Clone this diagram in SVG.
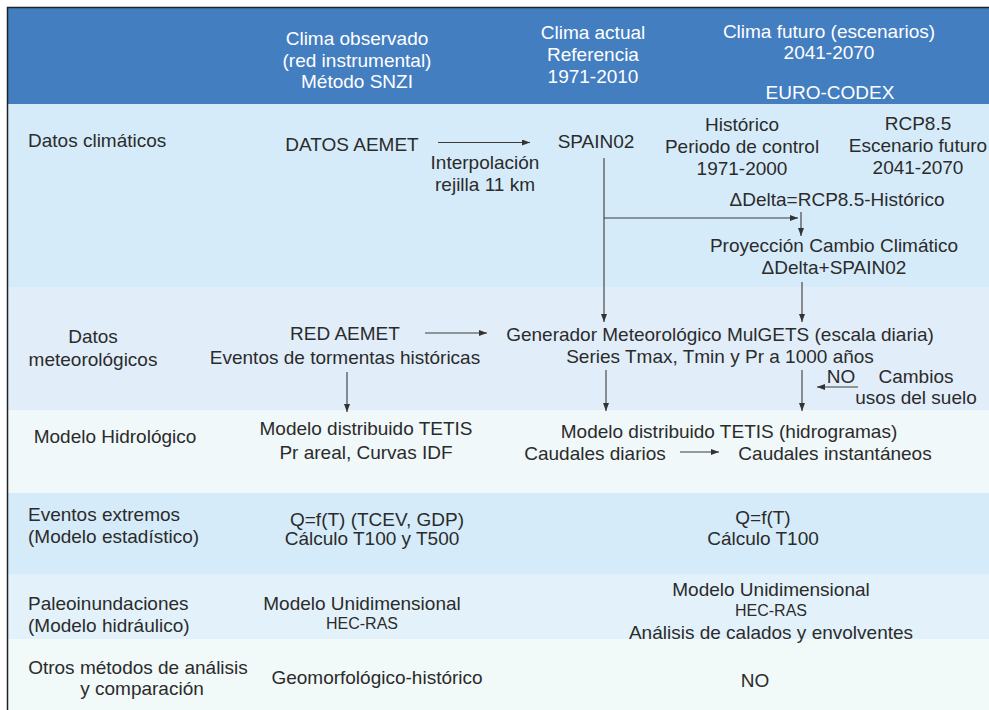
<svg xmlns="http://www.w3.org/2000/svg" width="989" height="710" viewBox="0 0 989 710">
<defs>
<marker id="ah" viewBox="0 0 8 6" refX="8" refY="3" markerWidth="8" markerHeight="6" markerUnits="userSpaceOnUse" orient="auto">
<path d="M0,0 L8,3 L0,6 z" fill="#333"/>
</marker>
</defs>
<style>
text{font-family:"Liberation Sans",Arial,sans-serif;font-size:19px;fill:#2b2b2b}
.h{fill:#ffffff;text-anchor:middle}
.c{text-anchor:middle}
.s{font-size:16px}
.ln{stroke:#3a3a3a;stroke-width:1.1;fill:none}
.ar{marker-end:url(#ah)}
</style>
<rect x="0" y="0" width="989" height="710" fill="#ffffff"/>
<g id="bands">
<rect x="8" y="8" width="981" height="96" fill="#437EC1"/>
<rect x="8" y="104" width="981" height="183" fill="#D6EBF9"/>
<rect x="8" y="287" width="981" height="123" fill="#E1EEFA"/>
<rect x="8" y="410" width="981" height="83" fill="#F0F8F9"/>
<rect x="8" y="493" width="981" height="81" fill="#D6EBF9"/>
<rect x="8" y="574" width="981" height="65" fill="#E3F2FA"/>
<rect x="8" y="639" width="981" height="71" fill="#F1F9F9"/>
<path d="M7.5,710 V7.5 H989" stroke="#222" stroke-width="1.5" fill="none"/>
</g>
<g id="header">
<text class="h" x="357" y="45">Clima observado</text>
<text class="h" x="357" y="67">(red instrumental)</text>
<text class="h" x="357" y="88">Método SNZI</text>
<text class="h" x="593" y="39">Clima actual</text>
<text class="h" x="593" y="61">Referencia</text>
<text class="h" x="593" y="83">1971-2010</text>
<text class="h" x="829" y="38">Clima futuro (escenarios)</text>
<text class="h" x="829" y="59">2041-2070</text>
<text class="h" x="830" y="99">EURO-CODEX</text>
</g>
<g id="row-labels">
<text x="28" y="147">Datos climáticos</text>
<text class="c" x="93" y="343">Datos</text>
<text class="c" x="93" y="366">meteorológicos</text>
<text class="c" x="115" y="443">Modelo Hidrológico</text>
<text x="28" y="521">Eventos extremos</text>
<text x="28" y="543">(Modelo estadístico)</text>
<text x="28" y="610">Paleoinundaciones</text>
<text x="28" y="632">(Modelo hidráulico)</text>
<text class="c" x="138" y="674">Otros métodos de análisis</text>
<text class="c" x="142" y="695">y comparación</text>
</g>
<g id="datos-aemet"><text class="c" x="352" y="151">DATOS AEMET</text></g>
<g id="interpolacion">
<text class="c" x="485" y="169">Interpolación</text>
<text class="c" x="485" y="191">rejilla 11 km</text>
</g>
<g id="spain02"><text class="c" x="596" y="148">SPAIN02</text></g>
<g id="historico">
<text class="c" x="742" y="131">Histórico</text>
<text class="c" x="742" y="153">Periodo de control</text>
<text class="c" x="742" y="175">1971-2000</text>
</g>
<g id="rcp85">
<text class="c" x="918" y="130">RCP8.5</text>
<text class="c" x="918" y="152">Escenario futuro</text>
<text class="c" x="918" y="174">2041-2070</text>
</g>
<g id="delta"><text class="c" x="837" y="206">ΔDelta=RCP8.5-Histórico</text></g>
<g id="proyeccion">
<text class="c" x="834" y="252">Proyección Cambio Climático</text>
<text class="c" x="834" y="274">ΔDelta+SPAIN02</text>
</g>
<g id="red-aemet">
<text class="c" x="345" y="340">RED AEMET</text>
<text class="c" x="345" y="364">Eventos de tormentas históricas</text>
</g>
<g id="mulgets">
<text class="c" x="720" y="341">Generador Meteorológico MulGETS (escala diaria)</text>
<text class="c" x="720" y="363">Series Tmax, Tmin y Pr a 1000 años</text>
</g>
<g id="no-cambios">
<text class="c" x="841" y="383">NO</text>
<text class="c" x="916" y="383">Cambios</text>
<text class="c" x="916" y="404">usos del suelo</text>
</g>
<g id="tetis-obs">
<text class="c" x="366" y="435">Modelo distribuido TETIS</text>
<text class="c" x="366" y="459">Pr areal, Curvas IDF</text>
</g>
<g id="tetis-fut">
<text class="c" x="729" y="438">Modelo distribuido TETIS (hidrogramas)</text>
<text class="c" x="595" y="460">Caudales diarios</text>
<text class="c" x="835" y="460">Caudales instantáneos</text>
</g>
<g id="qft-obs">
<text class="c" x="377" y="526">Q=f(T) (TCEV, GDP)</text>
<text class="c" x="372" y="545">Cálculo T100 y T500</text>
</g>
<g id="qft-fut">
<text class="c" x="763" y="524">Q=f(T)</text>
<text class="c" x="763" y="545">Cálculo T100</text>
</g>
<g id="hecras-obs">
<text class="c" x="362" y="610">Modelo Unidimensional</text>
<text class="c s" x="362" y="629">HEC-RAS</text>
</g>
<g id="hecras-fut">
<text class="c" x="771" y="596">Modelo Unidimensional</text>
<text class="c s" x="771" y="616">HEC-RAS</text>
<text class="c" x="771" y="639">Análisis de calados y envolventes</text>
</g>
<g id="geomorf"><text class="c" x="377" y="684">Geomorfológico-histórico</text></g>
<g id="no-otros"><text class="c" x="755" y="687">NO</text></g>
<g id="connectors">
<line class="ln ar" x1="438" y1="142.5" x2="530" y2="142.5"/>
<line class="ln ar" x1="604" y1="158" x2="604" y2="322"/>
<line class="ln ar" x1="604" y1="218" x2="798" y2="218"/>
<line class="ln ar" x1="801" y1="212" x2="801" y2="236"/>
<line class="ln ar" x1="802" y1="282" x2="802" y2="322"/>
<line class="ln ar" x1="425" y1="333" x2="487" y2="333"/>
<line class="ln ar" x1="347" y1="372" x2="347" y2="412"/>
<line class="ln ar" x1="606" y1="370" x2="606" y2="411"/>
<line class="ln ar" x1="802" y1="370" x2="802" y2="411"/>
<line class="ln ar" x1="858" y1="387" x2="817" y2="387"/>
<line class="ln ar" x1="680" y1="452" x2="719" y2="452"/>
</g>
</svg>
